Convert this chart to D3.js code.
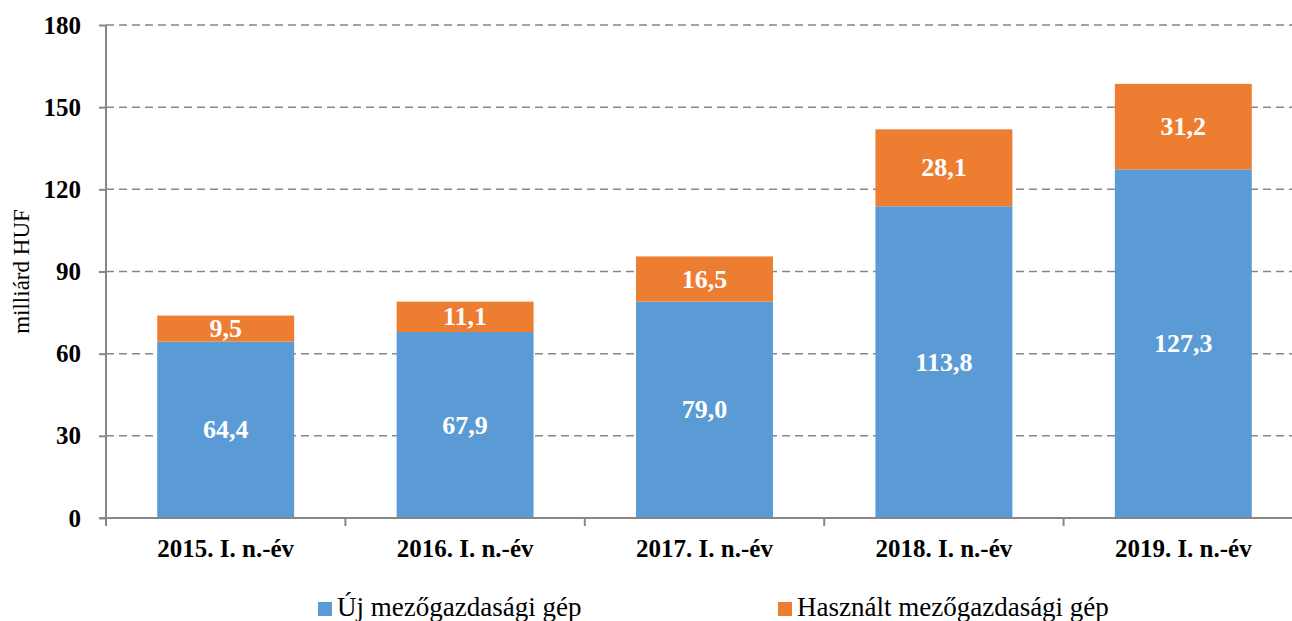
<!DOCTYPE html>
<html><head><meta charset="utf-8">
<script src="https://cdn.jsdelivr.net/npm/d3@7/dist/d3.min.js"></script>
<style>body{margin:0;background:#fff}svg{display:block}</style>
</head><body><svg id="c" width="1292" height="621"></svg>
<script>
const categories = ["2015. I. n.-év","2016. I. n.-év","2017. I. n.-év","2018. I. n.-év","2019. I. n.-év"];
const newMachines = [64.4, 67.9, 79.0, 113.8, 127.3];
const usedMachines = [9.5, 11.1, 16.5, 28.1, 31.2];
const seriesNames = ["Új mezőgazdasági gép", "Használt mezőgazdasági gép"];
const yTicks = [0, 30, 60, 90, 120, 150, 180];
const yLabel = "milliárd HUF";
const colors = ["#5B9BD5", "#ED7D31"];

(function(){
const svg = d3.select("#c");
const font = "'Liberation Serif','Times New Roman',serif";
const axisColor = "#878787";
const pl = 106, pr = 1303, pt = 25, pb = 518;

const x = d3.scaleBand().domain(categories).range([pl, pr]).paddingInner(0.428).paddingOuter(0.214);
const y = d3.scaleLinear().domain([0, 180]).range([pb, pt]);

// gridlines
svg.append("g").selectAll("line").data(yTicks.filter(d => d > 0)).join("line")
  .attr("x1", pl).attr("x2", 1292)
  .attr("y1", d => y(d)).attr("y2", d => y(d))
  .attr("stroke", axisColor).attr("stroke-width", 1.5).attr("stroke-dasharray", "8,5");

// bars
const stackData = categories.map((c, i) => ({cat: c, a: newMachines[i], b: usedMachines[i]}));
const g = svg.append("g");
const fmt = v => v.toFixed(1).replace(".", ",");
stackData.forEach(d => {
  g.append("rect").attr("x", x(d.cat)).attr("width", x.bandwidth())
    .attr("y", y(d.a)).attr("height", y(0) - y(d.a)).attr("fill", colors[0]);
  g.append("rect").attr("x", x(d.cat)).attr("width", x.bandwidth())
    .attr("y", y(d.a + d.b)).attr("height", y(d.a) - y(d.a + d.b)).attr("fill", colors[1]);
  g.append("text").attr("x", x(d.cat) + x.bandwidth()/2).attr("y", y(d.a/2))
    .attr("text-anchor","middle").attr("dominant-baseline","central")
    .attr("font-family", font).attr("font-weight","bold").attr("font-size", 26).attr("fill","#fff")
    .text(fmt(d.a));
  g.append("text").attr("x", x(d.cat) + x.bandwidth()/2).attr("y", y(d.a + d.b/2))
    .attr("text-anchor","middle").attr("dominant-baseline","central")
    .attr("font-family", font).attr("font-weight","bold").attr("font-size", 26).attr("fill","#fff")
    .text(fmt(d.b));
});

// y axis
const yAxis = svg.append("g").attr("transform", `translate(${pl},0)`)
  .call(d3.axisLeft(y).tickValues(yTicks).tickSize(7).tickPadding(18).tickFormat(d3.format("d")));
yAxis.select(".domain").attr("stroke", axisColor).attr("stroke-width", 2).attr("d", `M0,${pt}V${pb}`);
yAxis.selectAll(".tick line").attr("stroke", axisColor).attr("stroke-width", 2);
yAxis.selectAll(".tick text").attr("font-family", font).attr("font-weight","bold").attr("font-size", 25).attr("fill","#000");

// x axis
const xb = svg.append("g").attr("transform", `translate(0,${pb})`);
xb.append("line").attr("x1", pl - 7).attr("x2", 1292).attr("y1", 0).attr("y2", 0)
  .attr("stroke", axisColor).attr("stroke-width", 2);
const step = x.step();
xb.selectAll("line.t").data(d3.range(categories.length)).join("line").attr("class","t")
  .attr("x1", i => pl + i*step).attr("x2", i => pl + i*step).attr("y1", 0).attr("y2", 8)
  .attr("stroke", axisColor).attr("stroke-width", 2);
xb.selectAll("text").data(categories).join("text")
  .attr("x", d => x(d) + x.bandwidth()/2).attr("y", 39)
  .attr("text-anchor","middle").attr("font-family", font).attr("font-weight","bold").attr("font-size", 25)
  .text(d => d);

// y label
svg.append("text").attr("transform", `translate(29,${(pt+pb)/2}) rotate(-90)`)
  .attr("text-anchor","middle").attr("font-family", font).attr("font-size", 23).text(yLabel);

// legend
const legX = [318, 778];
seriesNames.forEach((n, i) => {
  svg.append("rect").attr("x", legX[i]).attr("y", 602).attr("width", 14).attr("height", 14).attr("fill", colors[i]);
  svg.append("text").attr("x", legX[i] + 19).attr("y", 616).attr("font-family", font).attr("font-size", 27).text(n);
});
})();
</script></body></html>
